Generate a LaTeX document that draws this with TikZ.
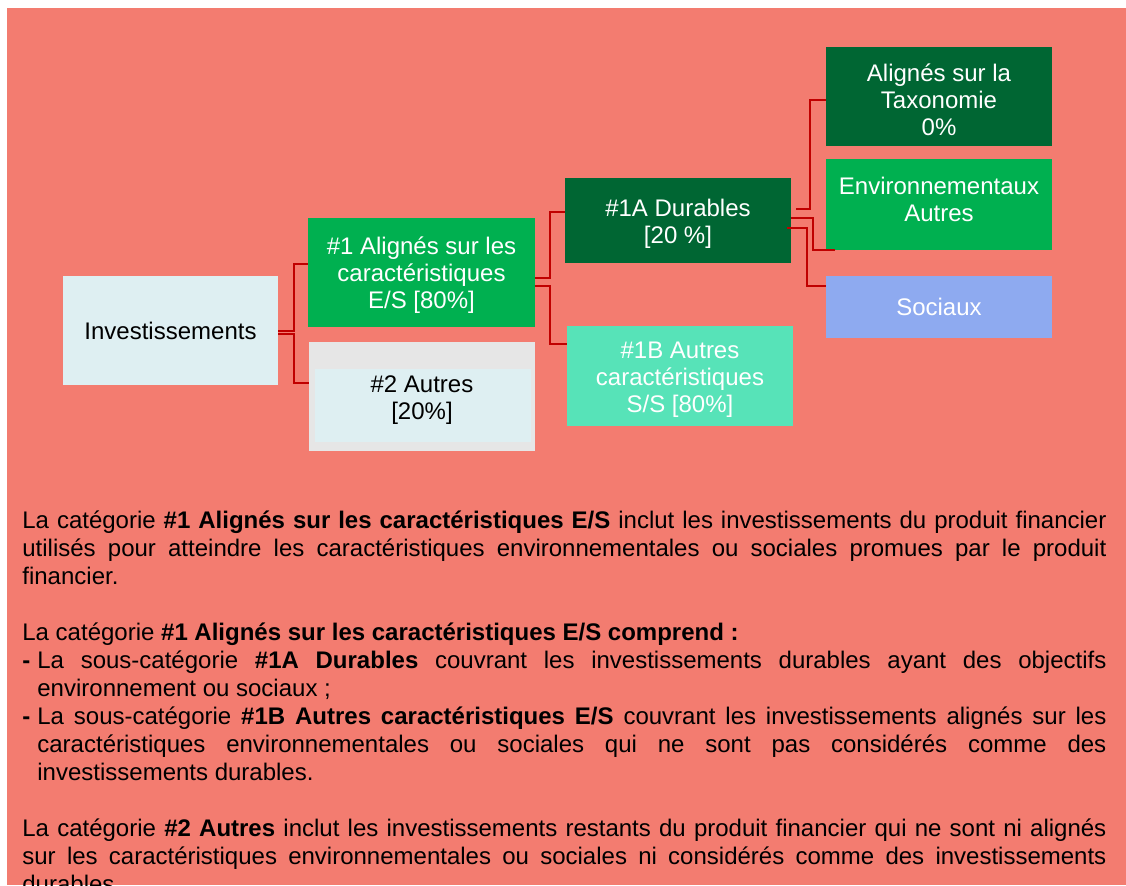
\documentclass[tikz,border=0pt]{standalone}
\usepackage{fontspec}
\setmainfont{Liberation Sans}
\definecolor{saumon}{RGB}{243,124,112}
\definecolor{vertfonce}{RGB}{0,102,51}
\definecolor{vert}{RGB}{0,176,80}
\definecolor{vertclair}{RGB}{87,227,184}
\definecolor{bleuclair}{RGB}{222,239,242}
\definecolor{bleusoc}{RGB}{142,170,240}
\definecolor{grisclair}{RGB}{230,230,230}
\definecolor{rougelien}{RGB}{192,0,0}
\newcommand{\appui}{\rule{0pt}{11.7pt}}
\tikzset{
  basebox/.style={rectangle, inner sep=0pt, align=center,
                  minimum width=113pt, font=\fontsize{12}{13.5}\selectfont},
  lightbox/.style={basebox, fill=bleuclair, text=black},
  darkbox/.style={basebox, fill=vertfonce, text=white},
  greenbox/.style={basebox, fill=vert, text=white},
  aquabox/.style={basebox, fill=vertclair, text=white},
  bluebox/.style={basebox, fill=bleusoc, text=white},
  link/.style={draw=rougelien, line width=1pt},
  bodytext/.style={anchor=north west, inner sep=0pt, text width=542pt,
                   align=justify, font=\fontsize{12}{14}\selectfont,
                   execute at begin node={\parindent0pt\tolerance10000
                     \hyphenpenalty10000\exhyphenpenalty10000}}
}

\begin{document}
\begin{tikzpicture}[x=0.5pt, y=-0.5pt]
  \useasboundingbox (0,0) rectangle (1126,885);
  \clip (0,0) rectangle (1126,885);
  \fill[saumon] (7,8) rectangle (1126,885);

  \node[lightbox, minimum width=107.5pt, minimum height=54.5pt] (invest) at (170.5,330.5) {Investissements};
  \node[greenbox, minimum width=113.5pt, minimum height=54.5pt] (aligne) at (421.5,272.5) {\appui\#1 Alignés sur les\\caractéristiques\\E/S [80\%]};
  \node[basebox, fill=grisclair, text=black, minimum height=54.5pt,
        path picture={\fill[bleuclair] ([shift={(6,27)}]path picture bounding box.north west)
                      rectangle ([shift={(-4,-9)}]path picture bounding box.south east);}]
        (autres) at (422,396.5) {\appui\#2 Autres\\{}[20\%]};
  \node[darkbox, minimum height=42.5pt] (durables) at (678,220.5) {\appui\#1A Durables\\{}[20 \%]};
  \node[aquabox, minimum height=50pt] (autresES) at (680,376) {\appui\#1B Autres\\caractéristiques\\S/S [80\%]};
  \node[darkbox, minimum height=49.5pt] (taxo) at (939,96.5) {\appui Alignés sur la\\Taxonomie\\0\%};
  \node[greenbox, minimum height=45.5pt] (envir) at (939,204.5) {Environnementaux\\Autres\rule[-5pt]{0pt}{0pt}};
  \node[bluebox, minimum height=31pt] (sociaux) at (939,307) {Sociaux};

  % connecteurs
  \draw[link] (invest.east) -- ++(16,0) |- ([shift={(0,-8.5)}]aligne.west);
  \draw[link] ([shift={(0,3.5)}]invest.east) -- ++(16,0) |- ([shift={(0,-13.5)}]autres.west);
  \draw[link] ([shift={(0,5.5)}]aligne.east) -- ++(15,0) |- ([shift={(0,-8.5)}]durables.west);
  \draw[link] ([shift={(0,13.5)}]aligne.east) -- ++(15,0) |- ([shift={(0,-32)}]autresES.west);
  \draw[link] ([shift={(5,-11.5)}]durables.east) -- ++(14,0) |- ([shift={(0,3.5)}]taxo.west);
  \draw[link] ([shift={(0,-2.5)}]durables.east) -- ++(22,0) |- ([shift={(9,0)}]envir.south west);
  \draw[link] ([shift={(-4,7.5)}]durables.east) -- ++(20,0) |- ([shift={(0,-21)}]sociaux.west);

  \node[bodytext] (texte) at (22,510.5) {%
    La catégorie \textbf{\#1 Alignés sur les caractéristiques E/S} inclut les investissements du produit financier\linebreak
    utilisés pour atteindre les caractéristiques environnementales ou sociales promues par le produit\linebreak
    financier.\par\vspace{14pt}
    La catégorie \textbf{\#1 Alignés sur les caractéristiques E/S comprend :}\par
    \hangindent=7.5pt\hangafter=1\makebox[7.5pt][l]{\textbf{-}}La sous-catégorie \textbf{\#1A Durables} couvrant les investissements durables ayant des objectifs\linebreak
    environnement ou sociaux ;\par
    \hangindent=7.5pt\hangafter=1\makebox[7.5pt][l]{\textbf{-}}La sous-catégorie \textbf{\#1B Autres caractéristiques E/S} couvrant les investissements alignés sur les\linebreak
    caractéristiques environnementales ou sociales qui ne sont pas considérés comme des\linebreak
    investissements durables.\par\vspace{14pt}
    La catégorie \textbf{\#2 Autres} inclut les investissements restants du produit financier qui ne sont ni alignés\linebreak
    sur les caractéristiques environnementales ou sociales ni considérés comme des investissements\linebreak
    durables.};
\end{tikzpicture}
\end{document}
